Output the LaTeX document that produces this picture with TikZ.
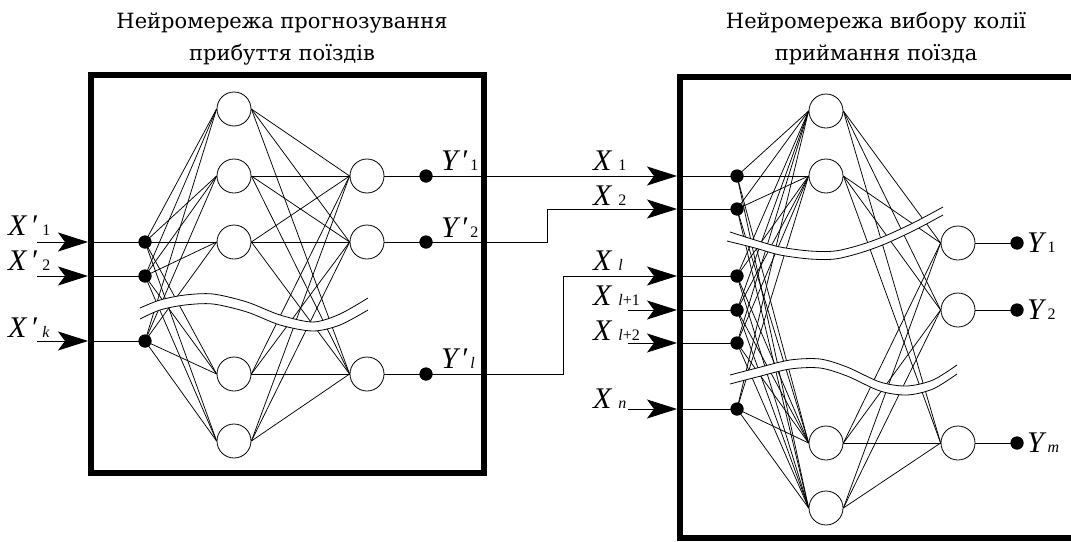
\documentclass[tikz,border=0pt]{standalone}
\usepackage{fontspec}
\setmainfont{Liberation Serif}
\newfontfamily\titlefont{DejaVu Serif}
\usetikzlibrary{arrows.meta}
\newcommand\myprime[2]{\kern#1pt\textit{\char"2032}\kern#2pt}
\newcommand\mysub[1]{{\fontsize{16}{16}\selectfont #1}}
\begin{document}
\begin{tikzpicture}[x=1pt,y=-1pt,
  neuron/.style={circle,draw,line width=0.8pt,minimum size=34pt,inner sep=0pt,fill=white},
  dot/.style={circle,fill=black,minimum size=13pt,inner sep=0pt},
  conn/.style={line width=0.75pt},
  frame/.style={line width=6.5pt},
  inarrow/.style={line width=0.8pt,-{Stealth[length=30pt,width=19pt,inset=7pt]}},
  lab/.style={anchor=base west,inner sep=0pt,font=\fontsize{30}{30}\selectfont},
  ttl/.style={anchor=base,inner sep=0pt,font=\titlefont\fontsize{21}{21}\selectfont},
  band/.style={line width=0.8pt}]
\useasboundingbox (0,0) rectangle (1071,541);
\clip (0,0) rectangle (1071,541);

% titles
\node[ttl] (t1a) at (282,28) {Нейромережа прогнозування};
\node[ttl] (t1b) at (282,60) {прибуття поїздів};
\node[ttl] (t2a) at (876,28) {Нейромережа вибору колії};
\node[ttl] (t2b) at (876,60) {приймання поїзда};

% ---------- left network ----------
\node[dot] (li1) at (145,242) {};
\node[dot] (li2) at (145,276) {};
\node[dot] (li3) at (145,341) {};
\node[neuron] (lh1) at (234,109) {};
\node[neuron] (lh2) at (234,176) {};
\node[neuron] (lh3) at (234,242) {};
\node[neuron] (lh4) at (234,374) {};
\node[neuron] (lh5) at (234,441) {};
\node[neuron] (lo1) at (367,176) {};
\node[neuron] (lo2) at (367,242) {};
\node[neuron] (lo3) at (367,374) {};
\node[dot] (lod1) at (426,176) {};
\node[dot] (lod2) at (426,242) {};
\node[dot] (lod3) at (426,374) {};

\foreach \i in {1,2,3}{
  \foreach \h in {1,...,5}{
    \draw[conn] (li\i.center) -- (lh\h.west);
  }
}
\foreach \h in {1,...,5}{
  \foreach \o in {1,2,3}{
    \draw[conn] (lh\h.east) -- (lo\o.west);
  }
}
\foreach \o in {1,2,3}{
  \draw[conn] (lo\o.east) -- (lod\o.center);
}

% left break band
\fill[white] plot[smooth] coordinates {(140,308) (160,300) (185,295) (213,294) (247,302) (280,315) (313,322) (340,314) (368,298)}
  -- plot[smooth] coordinates {(368,310) (340,325) (313,331) (280,325) (247,312) (213,304) (185,305) (160,310) (140,319)} -- cycle;
\draw[band] plot[smooth] coordinates {(140,308) (160,300) (185,295) (213,294) (247,302) (280,315) (313,322) (340,314) (368,298)};
\draw[band] plot[smooth] coordinates {(140,319) (160,310) (185,305) (213,304) (247,312) (280,325) (313,331) (340,325) (368,310)};

% left inputs
\coordinate (la1) at (37,242);
\coordinate (la2) at (37,276);
\coordinate (la3) at (37,341);
\coordinate (lb1) at (88,242);
\coordinate (lb2) at (88,276);
\coordinate (lb3) at (88,341);
\foreach \i in {1,2,3}{
  \draw[inarrow] (la\i) -- (lb\i);
  \draw[conn] (lb\i) -- (li\i.center);
}

% ---------- right network ----------
\node[dot] (ri1) at (737,176) {};
\node[dot] (ri2) at (737,209) {};
\node[dot] (ri3) at (737,276) {};
\node[dot] (ri4) at (737,310) {};
\node[dot] (ri5) at (737,343) {};
\node[dot] (ri6) at (737,409) {};
\node[neuron] (rh1) at (826,111) {};
\node[neuron] (rh2) at (826,176) {};
\node[neuron] (rh3) at (826,443) {};
\node[neuron] (rh4) at (826,508) {};
\node[neuron] (ro1) at (958,243) {};
\node[neuron] (ro2) at (958,310) {};
\node[neuron] (ro3) at (958,443) {};
\node[dot] (rod1) at (1017,243) {};
\node[dot] (rod2) at (1017,310) {};
\node[dot] (rod3) at (1017,443) {};

\foreach \i in {1,...,6}{
  \foreach \h in {1,...,4}{
    \draw[conn] (ri\i.center) -- (rh\h.west);
  }
}
\foreach \h in {1,...,4}{
  \foreach \o in {1,2,3}{
    \draw[conn] (rh\h.east) -- (ro\o.west);
  }
}
\foreach \o in {1,2,3}{
  \draw[conn] (ro\o.east) -- (rod\o.center);
}

% right break bands
\fill[white] plot[smooth] coordinates {(730,232) (755,240) (780,247) (810,251) (835,251) (860,245) (885,236) (915,222) (943,207)}
  -- plot[smooth] coordinates {(943,215) (915,230) (885,244) (860,253) (835,259) (810,259) (780,255) (755,248) (727,241)} -- cycle;
\draw[band] plot[smooth] coordinates {(730,232) (755,240) (780,247) (810,251) (835,251) (860,245) (885,236) (915,222) (943,207)};
\draw[band] plot[smooth] coordinates {(727,241) (755,248) (780,255) (810,259) (835,259) (860,253) (885,244) (915,230) (943,215)};

\fill[white] plot[smooth] coordinates {(730,375) (757,368) (790,360) (820,359) (847,367) (880,382) (907,386) (933,380) (957,365)}
  -- plot[smooth] coordinates {(957,374) (933,389) (907,395) (880,391) (847,376) (820,368) (790,369) (757,377) (730,384)} -- cycle;
\draw[band] plot[smooth] coordinates {(730,375) (757,368) (790,360) (820,359) (847,367) (880,382) (907,386) (933,380) (957,365)};
\draw[band] plot[smooth] coordinates {(730,384) (757,377) (790,369) (820,368) (847,376) (880,391) (907,395) (933,389) (957,374)};

% redraw dots on top of bands
\foreach \n in {li1,li2,li3,lod1,lod2,lod3,ri1,ri2,ri3,ri4,ri5,ri6,rod1,rod2,rod3}{
  \fill (\n) circle (6.5pt);
}

% right inputs and connections between the nets
\coordinate (rb1) at (677,176);
\coordinate (rb2) at (677,209);
\coordinate (rb3) at (677,276);
\coordinate (rb4) at (677,310);
\coordinate (rb5) at (677,343);
\coordinate (rb6) at (677,409);
\coordinate (rs4) at (628,310);
\coordinate (rs5) at (628,343);
\coordinate (rs6) at (628,409);
\coordinate (k2) at (547,242);
\coordinate (k3) at (563,374);
\draw[inarrow] (lod1.center) -- (rb1);
\draw[inarrow] (lod2.center) -- (k2) |- (rb2);
\draw[inarrow] (lod3.center) -- (k3) |- (rb3);
\draw[inarrow] (rs4) -- (rb4);
\draw[inarrow] (rs5) -- (rb5);
\draw[inarrow] (rs6) -- (rb6);
\foreach \i in {1,...,6}{
  \draw[conn] (rb\i) -- (ri\i.center);
}

% frames
\draw[frame] (91,75) rectangle (484,473);
\draw[frame] (680,77) rectangle (1100,538);

% labels
\node[lab] (xl1) at (8,235) {\textit{X}\myprime{3}{5}\mysub{1}};
\node[lab] (xl2) at (8,270) {\textit{X}\myprime{3}{5}\mysub{2}};
\node[lab] (xl3) at (8,337) {\textit{X}\myprime{3}{5}\mysub{\textit{k}}};
\node[lab] (yl1) at (441,170) {\textit{Y}\myprime{0}{3}\mysub{1}};
\node[lab] (yl2) at (441,237) {\textit{Y}\myprime{0}{3}\mysub{2}};
\node[lab] (yl3) at (441,368) {\textit{Y}\myprime{0}{3}\mysub{\textit{l}}};
\node[lab] (xr1) at (593,170) {\textit{X}\kern6pt\mysub{1}};
\node[lab] (xr2) at (593,205) {\textit{X}\kern6pt\mysub{2}};
\node[lab] (xr3) at (593,270) {\textit{X}\kern6pt\mysub{\textit{l}}};
\node[lab] (xr4) at (593,305) {\textit{X}\kern6pt\mysub{\textit{l}+1}};
\node[lab] (xr5) at (593,340) {\textit{X}\kern6pt\mysub{\textit{l}+2}};
\node[lab] (xr6) at (593,408) {\textit{X}\kern6pt\mysub{\textit{n}}};
\node[lab] (yr1) at (1027,252) {\textit{Y}\kern1pt\mysub{1}};
\node[lab] (yr2) at (1027,319) {\textit{Y}\kern1pt\mysub{2}};
\node[lab] (yr3) at (1027,452) {\textit{Y}\kern1pt\mysub{\textit{m}}};
\end{tikzpicture}
\end{document}
